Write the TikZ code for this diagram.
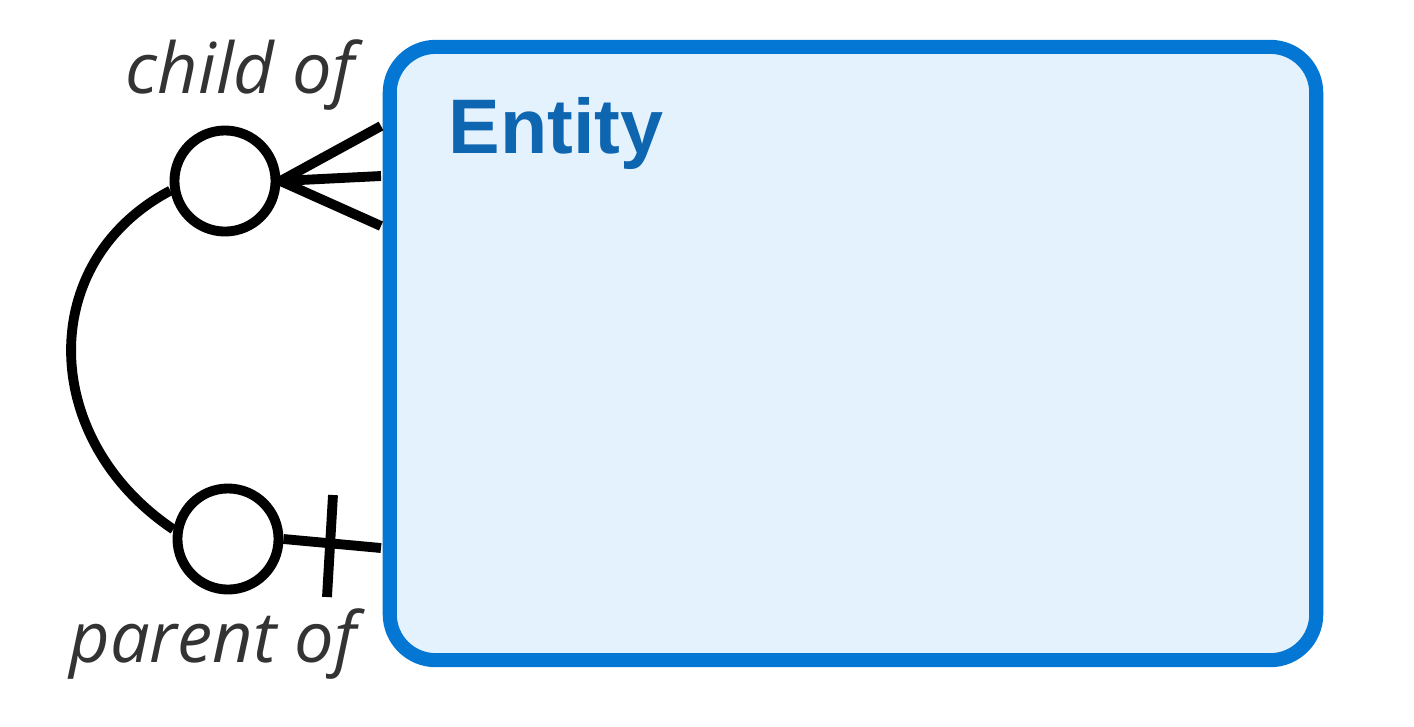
\documentclass[tikz,border=0pt]{standalone}
\usepackage{fontspec}
\setmainfont{Liberation Sans}
\newfontfamily\rolefont{Open Sans}
\usepackage{tikz}

\definecolor{entityline}{RGB}{4,118,211}
\definecolor{entityfill}{RGB}{227,242,253}
\definecolor{entitytext}{RGB}{14,101,176}
\definecolor{roletext}{RGB}{51,51,51}

\tikzset{
	link/.style={line width=2.8pt, line cap=butt},
	ring/.style={circle, draw, line width=2.8pt, fill=white, minimum size=1.01cm, inner sep=0pt},
	role/.style={font=\rolefont\itshape\fontsize{20}{24}\selectfont, text=roletext, inner sep=0pt}
}

\begin{document}
\begin{tikzpicture}[x=0.01cm, y=-0.01cm]
	
	\useasboundingbox (0,0) rectangle (1414,726);
	
	\node[draw=entityline, fill=entityfill, line width=4pt, rounded corners=0.46cm,
		minimum width=9.26cm, minimum height=6.13cm] (entity) at (853,353.5) {};
	\node[anchor=base west, inner sep=0pt, text=entitytext,
		font=\bfseries\fontsize{22}{26}\selectfont] (title) at (448,153) {Entity};
	
	\node[ring] (child) at (225,181) {};
	\node[ring] (parent) at (228,539) {};
	
	\coordinate (c1) at (381,126);
	\coordinate (c2) at (381,176);
	\coordinate (c3) at (381,226);
	\coordinate (p1) at (381,548);
	\coordinate (bartop) at (333,495);
	\coordinate (barbot) at (327,597);
	
	\draw[link] (child.east) -- (c1);
	\draw[link] (child.east) -- (c2);
	\draw[link] (child.east) -- (c3);
	
	\draw[link] (parent.east) -- (p1);
	\draw[link] (bartop) -- (barbot);
	
	\draw[link] (child.190) .. controls (35,262) and (40,440) .. (parent.170);
	
	\node[role, anchor=base east] (childof) at (355,93) {child of};
	\node[role, anchor=base east] (parentof) at (357,662) {parent of};
	
\end{tikzpicture}
\end{document}
